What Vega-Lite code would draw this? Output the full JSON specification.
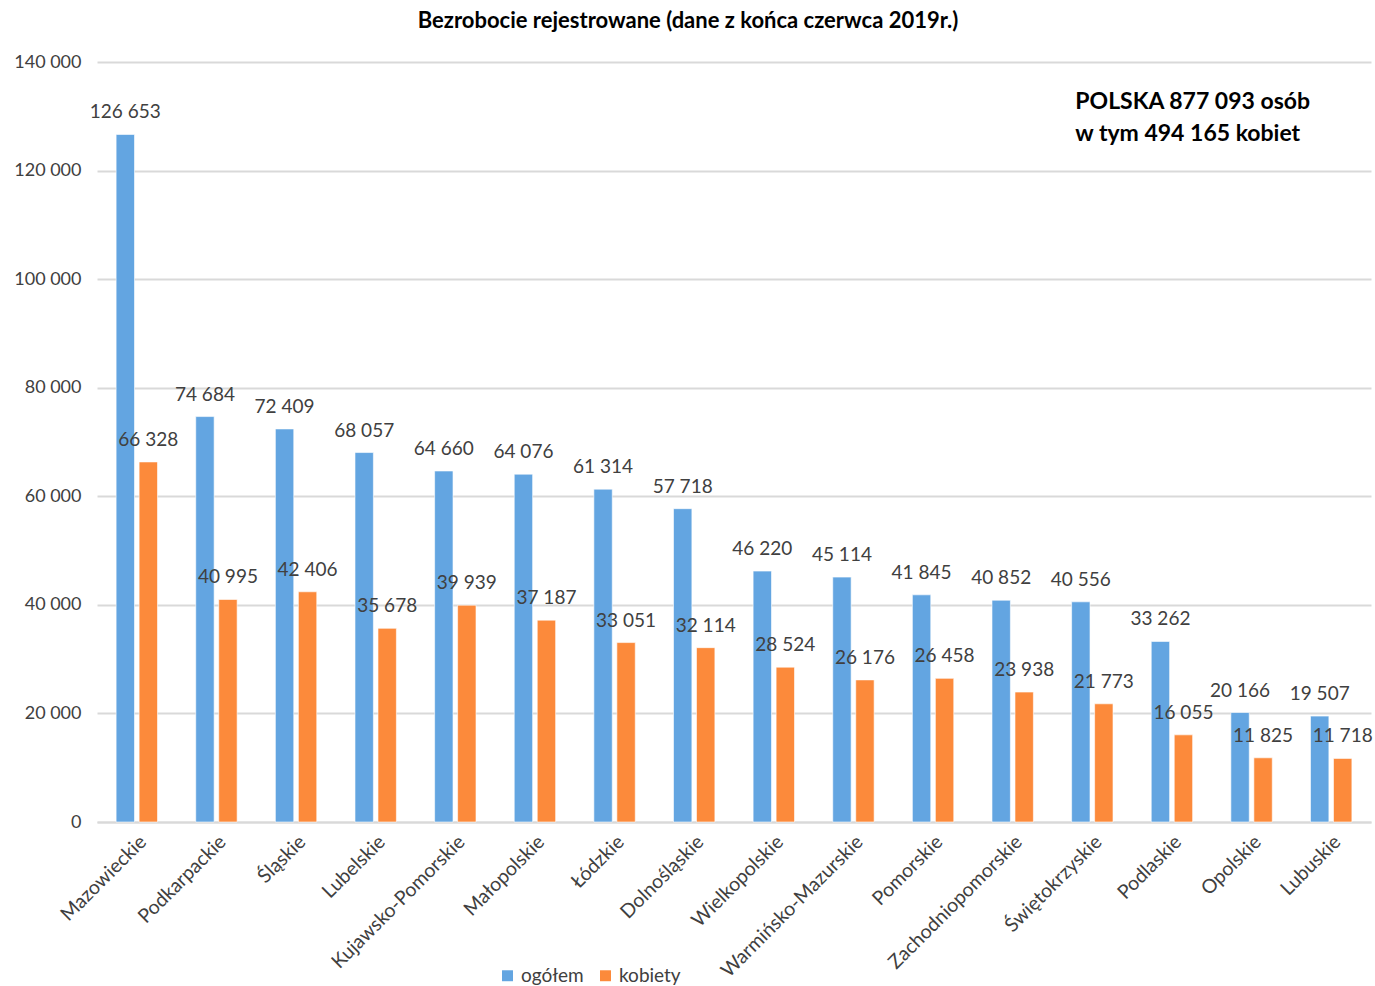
{
  "$schema": "https://vega.github.io/schema/vega-lite/v6.json",
  "autosize": {"type": "none"},
  "width": 1274,
  "height": 760,
  "padding": {"left": 97, "top": 62, "right": 4, "bottom": 164},
  "background": "white",
  "title": {
    "text": "Bezrobocie rejestrowane (dane z końca czerwca 2019r.)",
    "font": "Lato",
    "fontSize": 22,
    "fontWeight": "bold",
    "color": "#000000",
    "anchor": "middle",
    "dx": -46,
    "offset": 20
  },
  "config": {
    "locale": {"number": {"decimal": ",", "thousands": " ", "grouping": [3], "currency": ["", " zł"]}},
    "view": {"stroke": null},
    "font": "Lato"
  },
  "datasets": {
    "bars": [
      {"region": "Mazowieckie", "series": "ogółem", "value": 126653},
      {"region": "Mazowieckie", "series": "kobiety", "value": 66328},
      {"region": "Podkarpackie", "series": "ogółem", "value": 74684},
      {"region": "Podkarpackie", "series": "kobiety", "value": 40995},
      {"region": "Śląskie", "series": "ogółem", "value": 72409},
      {"region": "Śląskie", "series": "kobiety", "value": 42406},
      {"region": "Lubelskie", "series": "ogółem", "value": 68057},
      {"region": "Lubelskie", "series": "kobiety", "value": 35678},
      {"region": "Kujawsko-Pomorskie", "series": "ogółem", "value": 64660},
      {"region": "Kujawsko-Pomorskie", "series": "kobiety", "value": 39939},
      {"region": "Małopolskie", "series": "ogółem", "value": 64076},
      {"region": "Małopolskie", "series": "kobiety", "value": 37187},
      {"region": "Łódzkie", "series": "ogółem", "value": 61314},
      {"region": "Łódzkie", "series": "kobiety", "value": 33051},
      {"region": "Dolnośląskie", "series": "ogółem", "value": 57718},
      {"region": "Dolnośląskie", "series": "kobiety", "value": 32114},
      {"region": "Wielkopolskie", "series": "ogółem", "value": 46220},
      {"region": "Wielkopolskie", "series": "kobiety", "value": 28524},
      {"region": "Warmińsko-Mazurskie", "series": "ogółem", "value": 45114},
      {"region": "Warmińsko-Mazurskie", "series": "kobiety", "value": 26176},
      {"region": "Pomorskie", "series": "ogółem", "value": 41845},
      {"region": "Pomorskie", "series": "kobiety", "value": 26458},
      {"region": "Zachodniopomorskie", "series": "ogółem", "value": 40852},
      {"region": "Zachodniopomorskie", "series": "kobiety", "value": 23938},
      {"region": "Świętokrzyskie", "series": "ogółem", "value": 40556},
      {"region": "Świętokrzyskie", "series": "kobiety", "value": 21773},
      {"region": "Podlaskie", "series": "ogółem", "value": 33262},
      {"region": "Podlaskie", "series": "kobiety", "value": 16055},
      {"region": "Opolskie", "series": "ogółem", "value": 20166},
      {"region": "Opolskie", "series": "kobiety", "value": 11825},
      {"region": "Lubuskie", "series": "ogółem", "value": 19507},
      {"region": "Lubuskie", "series": "kobiety", "value": 11718}
    ],
    "note": [
      {"line": "POLSKA 877 093 osób", "y": 132700},
      {"line": "w tym 494 165 kobiet", "y": 126800}
    ]
  },
  "layer": [
    {
      "data": {"name": "bars"},
      "mark": {"type": "bar", "stroke": "#ffffff", "strokeOpacity": 0.6, "strokeWidth": 1},
      "encoding": {
        "x": {
          "field": "region", "type": "nominal", "sort": null,
          "scale": {"paddingInner": 0.48, "paddingOuter": 0.24},
          "axis": {
            "title": null, "labelAngle": -45, "labelAlign": "right", "labelBaseline": "top",
            "labelPadding": 10, "labelFontSize": 19.5, "labelColor": "#404040", "labelFont": "Lato",
            "ticks": false, "domainColor": "#d9d9d9", "domainWidth": 2, "labelOverlap": false, "labelLimit": 300
          }
        },
        "xOffset": {"field": "series", "type": "nominal", "sort": ["ogółem", "kobiety"], "scale": {"paddingInner": 0.2}},
        "y": {
          "field": "value", "type": "quantitative",
          "scale": {"domain": [0, 140000], "nice": false},
          "axis": {
            "title": null, "values": [0, 20000, 40000, 60000, 80000, 100000, 120000, 140000],
            "format": ",d", "labelFontSize": 18, "labelColor": "#404040", "labelPadding": 16,
            "ticks": false, "domain": false, "gridColor": "#d9d9d9", "gridWidth": 2
          }
        },
        "color": {
          "field": "series", "type": "nominal",
          "scale": {"domain": ["ogółem", "kobiety"], "range": ["#63A5E1", "#FC8A3B"]},
          "legend": {
            "title": null, "orient": "none", "direction": "horizontal",
            "legendX": 401, "legendY": 904, "symbolType": "square", "symbolSize": 120,
            "labelFontSize": 19, "labelColor": "#404040", "columnPadding": 12, "labelOffset": 4,
            "symbolStrokeWidth": 0
          }
        }
      }
    },
    {
      "data": {"name": "bars"},
      "mark": {"type": "text", "baseline": "middle", "dy": -22, "fontSize": 19, "color": "#404040"},
      "encoding": {
        "x": {"field": "region", "type": "nominal", "sort": null},
        "xOffset": {"field": "series", "type": "nominal", "sort": ["ogółem", "kobiety"]},
        "y": {"field": "value", "type": "quantitative"},
        "text": {"field": "value", "type": "quantitative", "format": ",d"}
      }
    },
    {
      "data": {"name": "note"},
      "mark": {"type": "text", "align": "left", "baseline": "middle", "dx": -17, "fontSize": 23, "fontWeight": "bold", "color": "#000000"},
      "encoding": {
        "x": {"datum": "Świętokrzyskie", "type": "nominal"},
        "y": {"field": "y", "type": "quantitative"},
        "text": {"field": "line", "type": "nominal"}
      }
    }
  ]
}
